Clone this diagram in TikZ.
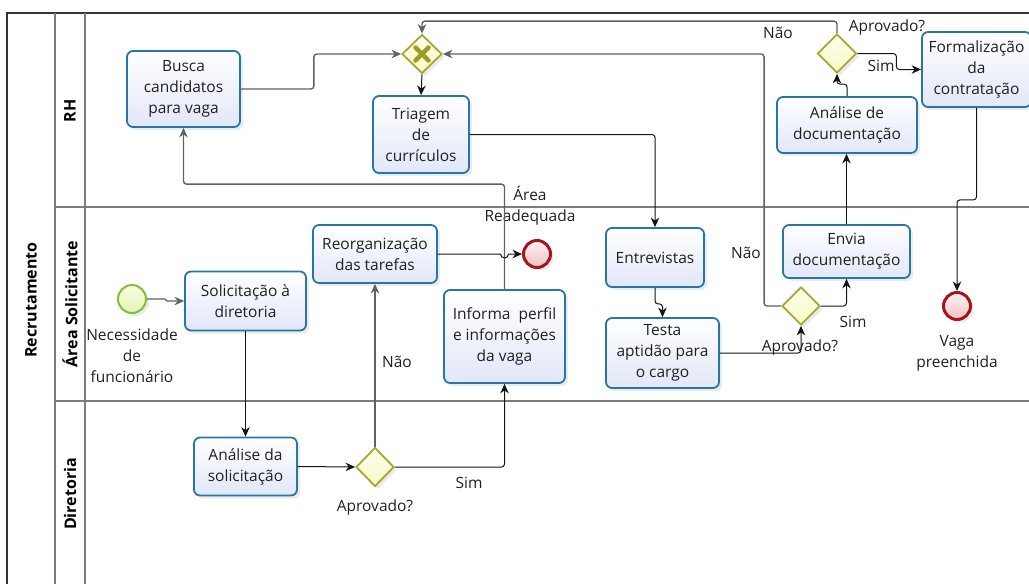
\documentclass[tikz,border=0pt]{standalone}
\usepackage{fontspec}
\setmainfont{Open Sans}
\usetikzlibrary{arrows.meta,shapes.geometric,shadows,calc}

\definecolor{txt}{HTML}{202020}
\definecolor{taskline}{HTML}{2776A8}
\definecolor{taskfill}{HTML}{E2E7F8}
\definecolor{gwline}{HTML}{A6A630}
\definecolor{gwtop}{HTML}{FFFFEE}
\definecolor{gwbottom}{HTML}{F8F8C4}
\definecolor{xmark}{HTML}{9C9C26}
\definecolor{endline}{HTML}{A3161C}
\definecolor{endtop}{HTML}{FFF4F4}
\definecolor{endbottom}{HTML}{EFC0C3}
\definecolor{startline}{HTML}{84BE38}
\definecolor{starttop}{HTML}{F8FDE4}
\definecolor{startbottom}{HTML}{E4F3B4}
\definecolor{laneline}{HTML}{7C7C7C}

\begin{document}
\begin{tikzpicture}[x=1pt,y=-1pt,
  font=\fontsize{15.5}{21}\selectfont,
  softshadow/.style={drop shadow={opacity=0.16, shadow xshift=3pt, shadow yshift=-3pt}},
  task/.style={draw=taskline, line width=1.8pt, rounded corners=6pt,
    top color=white, bottom color=taskfill, align=center, inner sep=1pt,
    text=txt, softshadow},
  gateway/.style={diamond, draw=gwline, line width=1.8pt, top color=gwtop,
    bottom color=gwbottom, inner sep=0pt, softshadow},
  startevent/.style={circle, draw=startline, line width=2pt, top color=starttop,
    bottom color=startbottom, minimum size=28, inner sep=0pt, softshadow},
  endevent/.style={circle, draw=endline, line width=3pt, top color=endtop,
    bottom color=endbottom, minimum size=27, inner sep=0pt, softshadow},
  lbl/.style={text=txt, align=center, inner sep=0pt},
  lanename/.style={rotate=90, text=black, inner sep=0pt,
    font=\fontsize{16}{19}\selectfont\bfseries},
  frameline/.style={draw=black!80, line width=1.3pt},
  laneline/.style={draw=laneline, line width=1.3pt},
  flow/.style={draw=black!92, line width=1pt, rounded corners=3pt,
    -{Stealth[length=9.5pt,width=8.5pt,inset=3pt]}},
  flowgray/.style={flow, draw=black!62, line width=1.4pt},
]
\useasboundingbox (0,0) rectangle (1029,584);

% pool and lanes
\draw[frameline] (7,584) -- (7,13) -- (1029,13);
\draw[laneline] (55,13) -- (55,584);
\draw[laneline] (85,13) -- (85,584);
\draw[laneline] (55,207) -- (1029,207);
\draw[laneline] (55,401) -- (1029,401);

\node[lanename] (pool)  at (31,300) {Recrutamento};
\node[lanename] (laneRH) at (70,111) {RH};
\node[lanename] (laneAS) at (70,304) {Área Solicitante};
\node[lanename] (laneDI) at (70,494) {Diretoria};

% RH
\node[task, minimum width=113, minimum height=76] (busca) at (183.5,89)
  {Busca\\candidatos\\para vaga};
\node[gateway, minimum width=40, minimum height=39] (gx) at (422,54) {};
\draw[xmark, line width=4.5pt, line cap=round]
  ([shift={(-6.5,-6.5)}]gx.center) -- ([shift={(6.5,6.5)}]gx.center)
  ([shift={(-6.5,6.5)}]gx.center) -- ([shift={(6.5,-6.5)}]gx.center);
\node[task, minimum width=96, minimum height=77] (triagem) at (421,134.5)
  {Triagem\\de\\currículos};
\node[task, minimum width=140, minimum height=56] (analdoc) at (847,125)
  {Análise de\\documentação};
\node[gateway, minimum width=39, minimum height=39] (gtop) at (837,53.5) {};
\node[task, minimum width=109, minimum height=75] (formal) at (976.5,69.5)
  {Formalização\\da\\contratação};

% Area Solicitante
\node[startevent] (start) at (132,299) {};
\node[lbl] (startlbl) at (132,356) {Necessidade\\de\\funcionário};
\node[task, minimum width=121, minimum height=59] (solic) at (245.5,301)
  {Solicitação à\\diretoria};
\node[task, minimum width=124, minimum height=58] (reorg) at (375,254)
  {Reorganização\\das tarefas};
\node[task, minimum width=121, minimum height=93] (informa) at (504.5,336.5)
  {Informa~ perfil\\e informações\\da vaga};
\node[endevent] (endA) at (537,254) {};
\node[lbl] (endAlbl) at (530,206) {Área\\Readequada};
\node[task, minimum width=98, minimum height=59] (entrev) at (655,257.5)
  {Entrevistas};
\node[task, minimum width=113, minimum height=70] (testa) at (662.5,353)
  {Testa\\aptidão para\\o cargo};
\node[gateway, minimum width=38, minimum height=38] (gmid) at (801,306) {};
\node[task, minimum width=127, minimum height=53] (envia) at (846.5,251.5)
  {Envia\\documentação};
\node[endevent] (endV) at (957,306) {};
\node[lbl] (endVlbl) at (957,353.5) {Vaga\\preenchida};

% Diretoria
\node[task, minimum width=103, minimum height=58] (analsol) at (245.5,466.5)
  {Análise da\\solicitação};
\node[gateway, minimum width=38, minimum height=39] (gbot) at (375,467) {};

% gateway labels
\node[lbl] (gbotq)   at (375,507) {Aprovado?};
\node[lbl] (gbotsim) at (469,483) {Sim};
\node[lbl] (gbotnao) at (397,362) {Não};
\node[lbl] (gmidq)   at (800,347) {Aprovado?};
\node[lbl] (gmidsim) at (853,322) {Sim};
\node[lbl] (gmidnao) at (746,253) {Não};
\node[lbl] (gtopq)   at (887,27) {Aprovado?};
\node[lbl] (gtopsim) at (881,66) {Sim};
\node[lbl] (gtopnao) at (778,33) {Não};

% sequence flows
\draw[flowgray] (busca.east) -- ++(73,0) |- (gx.west);
\draw[flow] (gx.south) -- (triagem.north);
\draw[flow] (triagem.east) -| (entrev.north);
\draw[flow] (entrev.south) -- ++(0,16) -| (testa.north);
\draw[flow] (testa.east) -| (gmid.south);
\draw[flow] (gmid.east) -| (envia.south);
\draw[flowgray] (gmid.west) -- ++(-17,0) |- (gx.east);
\draw[flow] (envia.north) -- (envia.north |- analdoc.south);
\draw[flow] (analdoc.north) -- ++(0,-12) -| (gtop.south);
\draw[flow] (gtop.east) -- ++(39,0) |- (formal.west);
\draw[flowgray] (gtop.north) -- ++(0,-12) -| (gx.north);
\draw[flow] (formal.south) -- ++(0,92) -| (endV.north);
\draw[flowgray, rounded corners=1pt] (start.east) -- ++(19,0) |- (solic.west);
\draw[flow] (solic.south) -- (analsol.north);
\draw[flow] (analsol.east) -- (gbot.west);
\draw[flowgray] (gbot.north) -- (reorg.south);
\draw[flow] (gbot.east) -| (informa.south);
\draw[flowgray] (informa.north) -- ++(0,-105) -| (busca.south);
\coordinate (hop) at (informa.north |- reorg.east);
\draw[flow, rounded corners=0pt] (reorg.east) -- ([xshift=-4pt]hop)
  arc[start angle=180, end angle=360, radius=4pt] -- (endA.west);
\end{tikzpicture}
\end{document}
